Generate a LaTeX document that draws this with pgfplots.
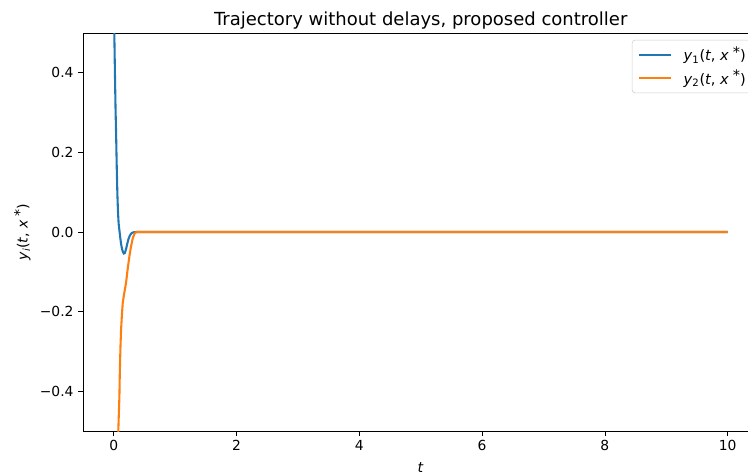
\documentclass[border=0pt]{standalone}
\usepackage{fontspec}
\setmainfont{DejaVu Sans}
\usepackage{pgfplots}
\pgfplotsset{compat=1.18}
\definecolor{mblue}{HTML}{1F77B4}
\definecolor{morange}{HTML}{FF7F0E}
\newcommand{\sstar}{\hspace{0.28em}\raisebox{0.22em}{*}}
\newcommand{\yl}[1]{\textit{y}\textsubscript{#1}(\textit{t}, \textit{x}\sstar)}
\begin{document}
\begin{tikzpicture}
\begin{scope}
\clip (-62.25pt,-33pt) rectangle (498.75pt,323.25pt);
\begin{axis}[
  at={(0,0)}, anchor=south west,
  scale only axis,
  width=506.55pt, height=298.5pt,
  xmin=-0.5, xmax=10.5, ymin=-0.5, ymax=0.5,
  xtick={0,2,4,6,8,10},
  xticklabels={0,2,4,6,8,10},
  ytick={-0.4,-0.2,0,0.2,0.4},
  yticklabels={−0.4,−0.2,0.0,0.2,0.4},
  tick align=outside,
  xtick pos=left, ytick pos=left,
  major tick length=3.6pt,
  every tick/.style={black, line width=0.6pt},
  axis line style={line width=0.6pt},
  tick label style={font=\fontsize{10.4}{12.5}\selectfont},
  label style={font=\fontsize{10.6}{12.5}\selectfont},
  xlabel style={yshift=-2pt},
  every axis title/.style={at={(0.5,1)}, anchor=base, yshift=6pt, font=\fontsize{13.5}{16}\selectfont},
  title={Trajectory without delays, proposed controller},
  xlabel={\textit{t}},
  ylabel={\yl{\textit{i}}},
  legend style={at={(rel axis cs:1,1)}, anchor=north east, xshift=-5.2pt, yshift=-5.2pt,
    draw=black!20, rounded corners=2pt, fill=white, fill opacity=0.8, text opacity=1,
    font=\fontsize{10.9}{12.5}\selectfont, cells={anchor=west},
    nodes={inner sep=0pt}, column sep=8.7pt, row sep=5.5pt,
    inner xsep=4pt, inner ysep=5pt},
  legend image code/.code={\draw[#1] (0pt,0pt) -- (24.3pt,0pt);},
]
\addplot[mblue, line width=1.56pt] coordinates {
(0,0.75) (0.005,0.6) (0.012,0.48) (0.02,0.40) (0.03,0.31) (0.04,0.24) (0.05,0.16)
(0.06,0.095) (0.07,0.05) (0.08,0.022) (0.09,0.008) (0.1,-0.005) (0.11,-0.018)
(0.12,-0.03) (0.135,-0.042) (0.15,-0.05) (0.165,-0.054) (0.18,-0.053) (0.2,-0.044)
(0.22,-0.03) (0.24,-0.018) (0.26,-0.01) (0.28,-0.005) (0.3,-0.002) (0.33,-0.0005)
(0.37,0) (1,0) (10,0)};
\addlegendentry{\yl{1}}
\addplot[morange, line width=1.56pt] coordinates {
(0.07,-0.6) (0.075,-0.5) (0.085,-0.45) (0.093,-0.414) (0.1,-0.35) (0.11,-0.29)
(0.12,-0.246) (0.135,-0.205) (0.147,-0.179) (0.17,-0.155) (0.2,-0.129) (0.23,-0.09)
(0.255,-0.062) (0.28,-0.038) (0.31,-0.016) (0.34,-0.004) (0.37,0) (1,0) (10,0)};
\addlegendentry{\yl{2}}
\end{axis}
\end{scope}
\pgfresetboundingbox
\useasboundingbox (-62.25pt,-33pt) rectangle (498.75pt,323.25pt);
\end{tikzpicture}
\end{document}
